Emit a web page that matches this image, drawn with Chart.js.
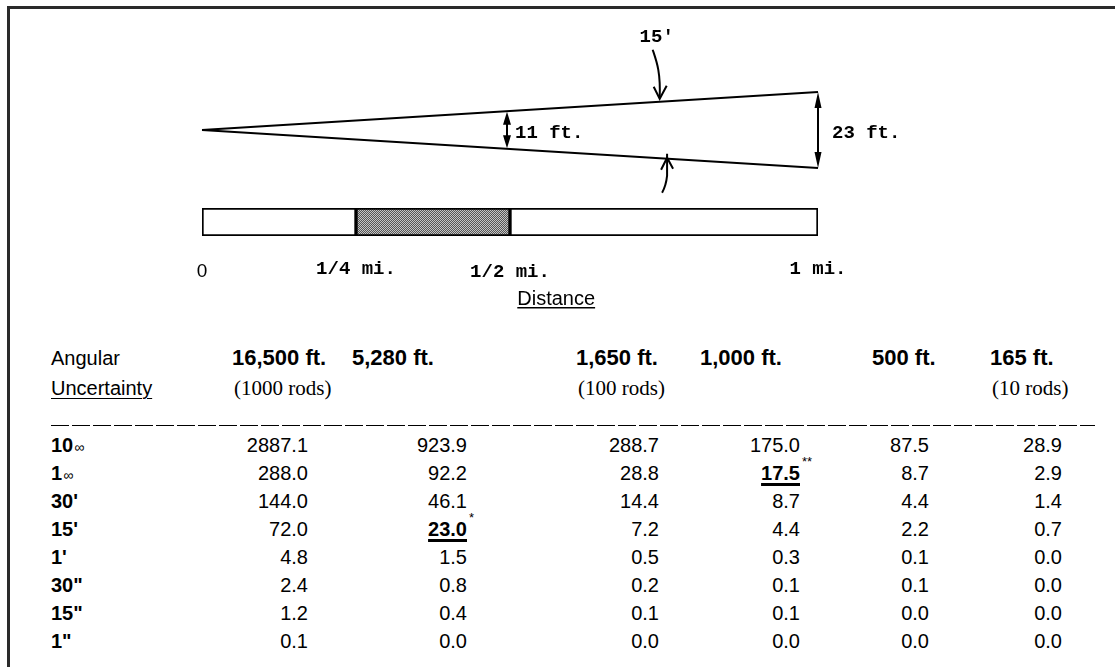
<!DOCTYPE html>
<html>
<head>
<meta charset="utf-8">
<script src="https://cdn.jsdelivr.net/npm/chart.js@4.4.1/dist/chart.umd.min.js"></script>
<style>
  html, body { margin: 0; padding: 0; background: #fff; }
  #page { position: relative; width: 1115px; height: 667px; overflow: hidden; background: #fff; }
  #frame { position: absolute; left: 7px; top: 6px; width: 1300px; height: 900px;
           border-top: 3px solid #2a2a2a; border-left: 3px solid #2a2a2a; }
  canvas { position: absolute; left: 0; }
  .t { position: absolute; white-space: nowrap; height: 24px; line-height: 24px;
       font-family: "Liberation Sans", Arial, sans-serif; font-size: 20px; color: #000; }
  .b { font-weight: bold; }
  .h { font-weight: bold; font-size: 22px; }
  .serif { font-family: "Liberation Serif", "Times New Roman", serif; font-size: 21px; }
  .ul { text-decoration: underline; text-decoration-thickness: 1px; text-underline-offset: 3px; }
  .flag { position: relative; font-weight: bold; text-decoration: underline;
          text-decoration-thickness: 3px; text-underline-offset: 3px; }
  .flag sup { position: absolute; left: 100%; top: -7px; margin-left: 2px; font-size: 13px;
              font-weight: normal; line-height: 13px; text-decoration: none; }
  .deg { font-size: 14px; font-weight: normal; margin-left: 1px; }
  #rule { position: absolute; left: 51px; width: 1044px; height: 1px;
          background: repeating-linear-gradient(90deg, #000 0 18px, transparent 18px 21px); }
</style>
</head>
<body>
<div id="page">
  <div id="frame"></div>
  <canvas id="wedge" width="1115" height="200" style="top:0"></canvas>
  <canvas id="scale" width="1115" height="140" style="top:195px"></canvas>
  <div id="rule"></div>
  <div id="table"></div>
</div>
<script>
// Diagram: a 15' wedge seen out to one mile
const distancesMi = [0, 0.25, 0.5, 1];
const distanceLabels = ['0', '1/4 mi.', '1/2 mi.', '1 mi.'];
const shadedSegment = [false, true, false];
const wedgeMi = [0, 1];
const wedgeHalfFt = [0, 11.5];
const spreadAtMi = [0.5, 1];
const spreadFt = [11, 23];
const spreadLabels = ['11 ft.', '23 ft.'];
const angleLabel = "15'";

// Table: spread (ft.) for each angular uncertainty and distance
const angleRows = ['10', '1', '30', '15', '1', '30', '15', '1'];
const angleUnits = ['∞', '∞', "'", "'", "'", '"', '"', '"'];
const distanceHeads = ['16,500 ft.', '5,280 ft.', '1,650 ft.', '1,000 ft.', '500 ft.', '165 ft.'];
const rodNotes = ['(1000 rods)', '', '(100 rods)', '', '', '(10 rods)'];
const ft16500 = [2887.1, 288.0, 144.0, 72.0, 4.8, 2.4, 1.2, 0.1];
const ft5280 = [923.9, 92.2, 46.1, 23.0, 1.5, 0.8, 0.4, 0.0];
const ft1650 = [288.7, 28.8, 14.4, 7.2, 0.5, 0.2, 0.1, 0.0];
const ft1000 = [175.0, 17.5, 8.7, 4.4, 0.3, 0.1, 0.1, 0.0];
const ft500 = [87.5, 8.7, 4.4, 2.2, 0.1, 0.1, 0.0, 0.0];
const ft165 = [28.9, 2.9, 1.4, 0.7, 0.0, 0.0, 0.0, 0.0];
const tableCols = [ft16500, ft5280, ft1650, ft1000, ft500, ft165];
const flagged = [{ col: 1, row: 3, note: '*' }, { col: 3, row: 1, note: '**' }];

// layout only
const monoFont = '"Liberation Mono", "Courier New", monospace';
const angleMarkMi = [0.743, 0.755];
const tableX = { label: 51, head: [232, 352, 576, 700, 872, 990], value: [308, 467, 659, 800, 929, 1062] };
const tableY = { head: 358, sub: 388, rule: 425, row0: 445, step: 28 };

const noChrome = { legend: { display: false }, tooltip: { enabled: false } };

// Wedge with dimension arrows
const wedgeNotes = {
    id: 'wedgeNotes',
    afterDatasetsDraw(chart) {
        const { ctx, scales: { x, y } } = chart;
        ctx.save();
        ctx.strokeStyle = '#000';
        ctx.fillStyle = '#000';
        ctx.lineWidth = 2;
        ctx.font = 'bold 19px ' + monoFont;
        ctx.textBaseline = 'middle';

        spreadAtMi.forEach((mi, i) => {
            const px = x.getPixelForValue(mi) - (i === 0 ? 3 : 0);
            const top = y.getPixelForValue(spreadFt[i] / 2);
            const bot = y.getPixelForValue(-spreadFt[i] / 2);
            const w = i === 0 ? 8 : 7, h = i === 0 ? 13 : 16;
            ctx.beginPath();
            ctx.moveTo(px, top + h - 2);
            ctx.lineTo(px, bot - h + 2);
            ctx.stroke();
            ctx.beginPath();
            ctx.moveTo(px, top); ctx.lineTo(px - w / 2, top + h); ctx.lineTo(px + w / 2, top + h);
            ctx.closePath(); ctx.fill();
            ctx.beginPath();
            ctx.moveTo(px, bot); ctx.lineTo(px - w / 2, bot - h); ctx.lineTo(px + w / 2, bot - h);
            ctx.closePath(); ctx.fill();
            ctx.textAlign = 'left';
            ctx.fillText(spreadLabels[i], px + (i === 0 ? 8 : 14), (top + bot) / 2 + 3);
        });

        // angle callout above and below
        const slope = wedgeHalfFt[1] / wedgeMi[1];
        const tx = x.getPixelForValue(angleMarkMi[0]);
        const ty = y.getPixelForValue(slope * angleMarkMi[0]) - 2;
        ctx.textAlign = 'center';
        ctx.fillText(angleLabel, tx - 3, ty - 63);
        ctx.beginPath();
        ctx.moveTo(tx - 7, ty - 50);
        ctx.bezierCurveTo(tx - 3, ty - 38, tx + 1, ty - 28, tx, ty - 2);
        ctx.stroke();
        ctx.beginPath();
        ctx.moveTo(tx - 6, ty - 13); ctx.lineTo(tx, ty - 1); ctx.lineTo(tx + 7, ty - 14);
        ctx.stroke();

        const bx = x.getPixelForValue(angleMarkMi[1]);
        const by = y.getPixelForValue(-slope * angleMarkMi[1]) - 1;
        ctx.beginPath();
        ctx.moveTo(bx, by - 4);
        ctx.lineTo(bx, by + 18);
        ctx.quadraticCurveTo(bx - 1, by + 28, bx - 5, by + 35);
        ctx.stroke();
        ctx.beginPath();
        ctx.moveTo(bx - 6, by + 12); ctx.lineTo(bx, by); ctx.lineTo(bx + 6, by + 11);
        ctx.stroke();
        ctx.restore();
    }
};

const edgeStyle = { showLine: true, borderColor: '#000', borderWidth: 2, pointRadius: 0, clip: false };
new Chart(document.getElementById('wedge'), {
    type: 'scatter',
    data: {
        datasets: [
            { ...edgeStyle, data: wedgeMi.map((mi, i) => ({ x: mi, y: wedgeHalfFt[i] })) },
            { ...edgeStyle, data: wedgeMi.map((mi, i) => ({ x: mi, y: -wedgeHalfFt[i] })) }
        ]
    },
    options: {
        responsive: false, animation: false, events: [],
        layout: { padding: { left: 202, right: 297, top: 92, bottom: 32 } },
        scales: {
            x: { type: 'linear', min: 0, max: 1, display: false },
            y: { type: 'linear', min: -11.5, max: 11.5, display: false }
        },
        plugins: noChrome
    },
    plugins: [wedgeNotes]
});

// Scale bar with a stippled middle quarter
const dots = document.createElement('canvas');
dots.width = 2; dots.height = 2;
const dctx = dots.getContext('2d');
dctx.fillStyle = '#c4c4c4'; dctx.fillRect(0, 0, 2, 2);
dctx.fillStyle = '#555'; dctx.fillRect(0, 0, 1, 1); dctx.fillRect(1, 1, 1, 1);
const stipple = dctx.createPattern(dots, 'repeat');

// mile labels under the bar and the "Distance" title
const scaleLabels = {
    id: 'scaleLabels',
    afterDraw(chart) {
        const { ctx, scales: { x }, chartArea } = chart;
        ctx.save();
        ctx.fillStyle = '#000';
        ctx.textAlign = 'center';
        ctx.textBaseline = 'middle';
        distancesMi.forEach((mi, i) => {
            ctx.font = i === 0 ? '19px "Liberation Sans", Arial, sans-serif' : 'bold 19px ' + monoFont;
            ctx.fillText(distanceLabels[i], x.getPixelForValue(mi), chartArea.bottom + 35 + (i % 2 ? -2 : 1));
        });
        const cx = x.getPixelForValue(0.575);
        ctx.font = '20px "Liberation Sans", Arial, sans-serif';
        ctx.textBaseline = 'alphabetic';
        ctx.fillText('Distance', cx, chartArea.bottom + 69);
        const w = ctx.measureText('Distance').width;
        ctx.fillRect(cx - w / 2, chartArea.bottom + 71, w, 1.5);
        ctx.restore();
    }
};

new Chart(document.getElementById('scale'), {
    type: 'bar',
    data: {
        labels: ['mi'],
        datasets: shadedSegment.map((shaded, i) => ({
            data: [[distancesMi[i], distancesMi[i + 1]]],
            backgroundColor: shaded ? stipple : '#fff',
            borderColor: '#000', borderWidth: 2, borderSkipped: false,
            barPercentage: 1, categoryPercentage: 1, grouped: false
        }))
    },
    options: {
        indexAxis: 'y', responsive: false, animation: false, events: [],
        layout: { padding: { left: 202, right: 297, top: 13, bottom: 99 } },
        scales: {
            x: { type: 'linear', min: 0, max: 1, display: false },
            y: { display: false }
        },
        plugins: noChrome
    },
    plugins: [scaleLabels]
});

// Table of spreads
const table = document.getElementById('table');
function put(x, y, html, cls, align) {
    const d = document.createElement('div');
    d.className = 't ' + (cls || '');
    d.style.left = x + 'px';
    d.style.top = (y - 12) + 'px';
    if (align === 'right') d.style.transform = 'translateX(-100%)';
    d.innerHTML = html;
    table.appendChild(d);
}

put(tableX.label, tableY.head, 'Angular');
put(tableX.label, tableY.sub, 'Uncertainty', 'ul');
distanceHeads.forEach((h, c) => {
    put(tableX.head[c], tableY.head, h, 'h');
    if (rodNotes[c]) put(tableX.head[c] + 2, tableY.sub, rodNotes[c], 'serif');
});
document.getElementById('rule').style.top = tableY.rule + 'px';

angleRows.forEach((a, r) => {
    const y = tableY.row0 + r * tableY.step;
    const unit = angleUnits[r] === '∞' ? '<span class="deg">∞</span>' : angleUnits[r];
    put(tableX.label, y, a + unit, 'b');
    tableCols.forEach((col, c) => {
        const f = flagged.find(m => m.col === c && m.row === r);
        const txt = col[r].toFixed(1);
        put(tableX.value[c], y, f ? '<span class="flag">' + txt + '<sup>' + f.note + '</sup></span>' : txt, '', 'right');
    });
});
</script>
</body>
</html>
